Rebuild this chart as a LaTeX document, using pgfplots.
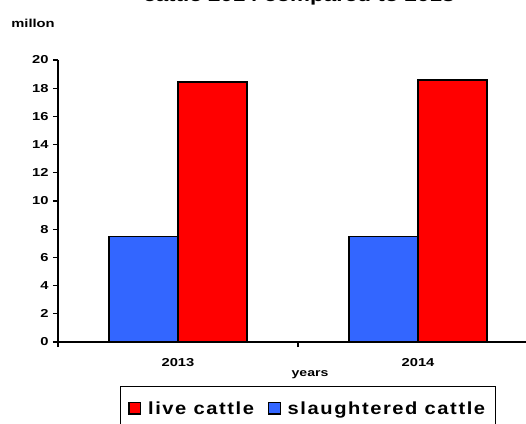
\documentclass[border=0pt]{standalone}
\usepackage{pgfplots}
\pgfplotsset{compat=1.18}
\usepackage{fontspec}
\setmainfont{Liberation Sans}
\newfontfamily\cbf[FakeStretch=1.28]{Liberation Sans}
\newfontfamily\legf[FakeStretch=1.15, LetterSpace=9]{Liberation Sans}
\definecolor{barred}{RGB}{255,0,0}
\definecolor{barblue}{RGB}{51,102,255}
\newcommand\smallf{\cbf\bfseries\fontsize{11.5}{13}\selectfont}
\begin{document}
\begin{tikzpicture}
\useasboundingbox (0pt,0pt) rectangle (526pt,-423pt);
\clip (0pt,0pt) rectangle (526pt,-423pt);
\begin{axis}[
  at={(58pt,-342pt)}, anchor=south west,
  scale only axis, width=480pt, height=282pt,
  xmin=-0.5, xmax=1.5, ymin=0, ymax=20,
  axis x line*=bottom, axis y line*=left,
  axis line style={line width=1.6pt, black},
  ytick={0,2,...,20},
  xtick={-0.5,0.5,1.5}, xticklabels={},
  extra x ticks={0,1}, extra x tick labels={2013,2014},
  extra x tick style={major tick length=0pt, tick label style={yshift=-13pt}},
  tick align=outside,
  major tick length=5pt,
  tick style={black, line width=1.1pt},
  /pgf/number format/assume math mode=true,
  tick label style={font=\smallf},
  yticklabel style={xshift=-1pt},
  title={cattle 2014 compared to 2013},
  title style={font=\cbf\bfseries\fontsize{17.5}{20}\selectfont, at={(rel axis cs:0.502,1.186)}, anchor=base, inner sep=0pt},
  ylabel={millon},
  ylabel style={font=\smallf, rotate=-90, at={(rel axis cs:-0.052,1.117)}, anchor=base, inner sep=0pt},
  xlabel={years},
  xlabel style={font=\cbf\bfseries\fontsize{11}{13}\selectfont, at={(rel axis cs:0.525,-0.124)}, anchor=base, inner sep=0pt},
  legend columns=2,
  legend style={at={(rel axis cs:0.129,-0.156)}, anchor=north west,
    draw=black, line width=1pt, inner xsep=8pt, inner ysep=13pt,
    font=\legf\bfseries\fontsize{17.5}{20}\selectfont,
    /tikz/every odd column/.append style={column sep=5pt},
    /tikz/every even column/.append style={column sep=12pt}},
  legend image code/.code={\draw[#1, line width=1.2pt] (0pt,-5.5pt) rectangle (11.5pt,6pt);},
]
\addplot[ybar, bar width=69pt, bar shift=34.5pt, fill=barred, draw=black, line width=1.3pt] coordinates {(0,18.44) (1,18.58)};
\addplot[ybar, bar width=69pt, bar shift=-34.5pt, fill=barblue, draw=black, line width=1.3pt] coordinates {(0,7.47) (1,7.47)};
\legend{live cattle, slaughtered cattle}
\end{axis}
\end{tikzpicture}
\end{document}
